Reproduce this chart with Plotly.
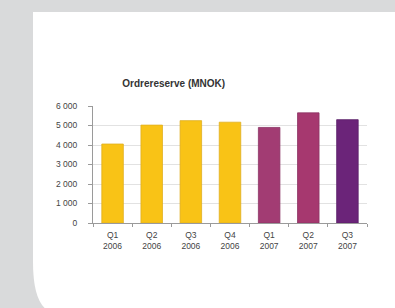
import plotly.graph_objects as go

categories = ["Q1<br>2006", "Q2<br>2006", "Q3<br>2006", "Q4<br>2006", "Q1<br>2007", "Q2<br>2007", "Q3<br>2007"]
values = [4050, 5020, 5250, 5170, 4900, 5650, 5300]
colors = ["#F9C316", "#F9C316", "#F9C316", "#F9C316", "#A23C73", "#A6386F", "#6B2479"]
line_colors = ["#E0AE20", "#E0AE20", "#E0AE20", "#E0AE20", "#8C3464", "#8C3464", "#5A2068"]
y_ticks = [0, 1000, 2000, 3000, 4000, 5000, 6000]
y_labels = ["0", "1 000", "2 000", "3 000", "4 000", "5 000", "6 000"]
title = "Ordrereserve (MNOK)"

W, H = 395, 308
L, R, T, B = 93, 367, 106, 223

def px(x):
    return (x - L) / (R - L)

def py(y):
    return (B - y) / (B - T)

fig = go.Figure(go.Bar(
    x=categories, y=values, width=0.55,
    marker=dict(color=colors, line=dict(color=line_colors, width=0.8)),
))

path = (f"M {px(33)},{py(12)} L {px(W+2)},{py(12)} L {px(W+2)},{py(H+2)} "
        f"L {px(47)},{py(H+2)} Q {px(33)},{py(H-8)} {px(33)},{py(262)} Z")

fig.update_layout(
    width=W, height=H,
    margin=dict(l=L, r=W - R, t=T, b=H - B, pad=0),
    paper_bgcolor="#D9DADB",
    plot_bgcolor="white",
    showlegend=False,
    font=dict(family="Liberation Sans, Arial, sans-serif", size=8, color="#444444"),
    title=dict(text=f"<b>{title}</b>", x=px(213.5), xanchor="center", y=1 - 83 / H, yanchor="middle",
               font=dict(size=10, color="#333333")),
    shapes=[dict(type="path", path=path, xref="paper", yref="paper",
                 fillcolor="white", line=dict(width=0), layer="below")],
    xaxis=dict(
        showgrid=False, showline=True, linecolor="#9a9a9a", linewidth=1,
        ticks="outside", ticklen=3, tickcolor="#9a9a9a", tickson="boundaries",
        tickfont=dict(size=8.5, color="#444444"), range=[-0.5, 6.5],
        ticklabelstandoff=4,
    ),
    yaxis=dict(
        range=[0, 6000], tickvals=y_ticks, ticktext=y_labels,
        showgrid=True, gridcolor="#E2E2E2", gridwidth=1, zeroline=False,
        showline=True, linecolor="#9a9a9a", linewidth=1,
        ticks="outside", ticklen=4, tickcolor="#9a9a9a",
        tickfont=dict(size=8.5, color="#444444"),
        ticklabelstandoff=9,
    ),
)

fig.write_html("out.html", config={"displayModeBar": False, "staticPlot": True},
               post_script="document.body.style.margin='0';document.body.style.overflow='hidden';")
